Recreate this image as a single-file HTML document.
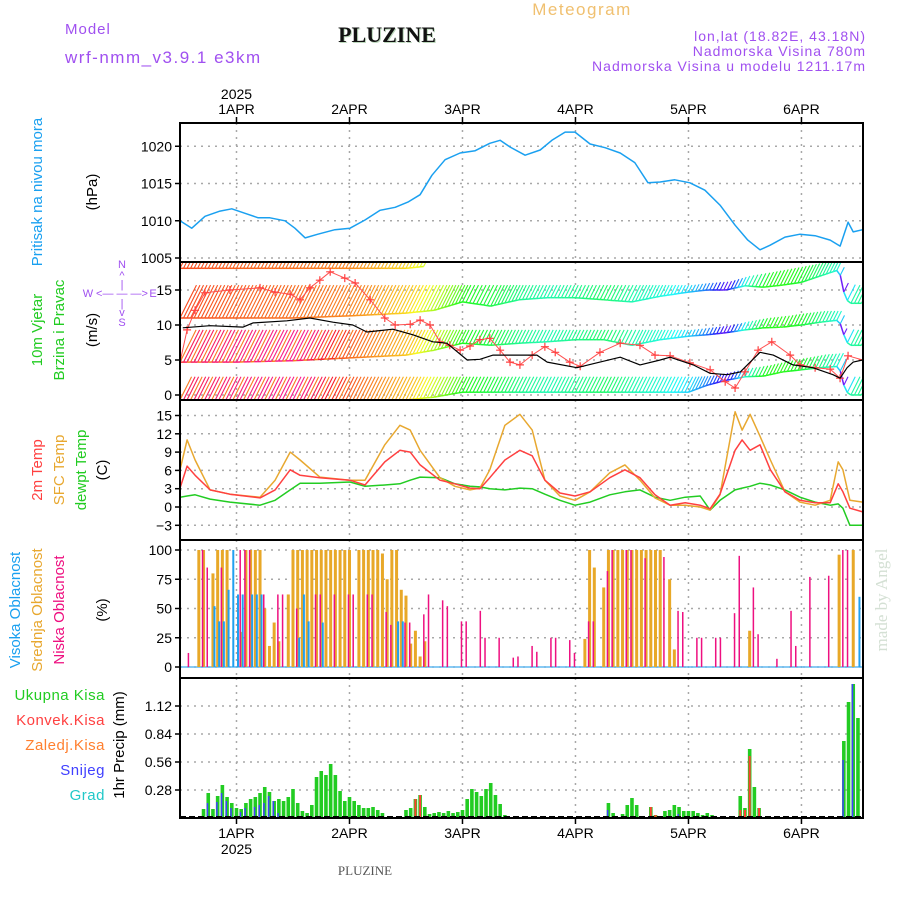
<!DOCTYPE html>
<html><head><meta charset="utf-8"><style>
html,body{margin:0;padding:0;background:#fff;}
svg{display:block;font-family:"Liberation Sans",sans-serif;}
</style></head><body>
<svg id="chart" width="900" height="900" viewBox="0 0 900 900" xmlns="http://www.w3.org/2000/svg">
<g>
<text x="65" y="34" font-size="15" fill="#a050f0" letter-spacing="1">Model</text>
<text x="65" y="63" font-size="17" fill="#a050f0" letter-spacing="1.5">wrf-nmm_v3.9.1 e3km</text>
<text x="388" y="43" font-size="22" font-weight="bold" font-family="Liberation Serif, serif" text-anchor="middle" fill="#bcd8bc">PLUZINE</text>
<text x="387" y="42" font-size="22" font-weight="bold" font-family="Liberation Serif, serif" text-anchor="middle" fill="#111">PLUZINE</text>
<text x="582" y="15" font-size="17" fill="#f0c070" text-anchor="middle" letter-spacing="1.5">Meteogram</text>
<text x="866" y="41" font-size="14" fill="#a050f0" text-anchor="end" letter-spacing="1">lon,lat (18.82E, 43.18N)</text>
<text x="866" y="56" font-size="14" fill="#a050f0" text-anchor="end" letter-spacing="1">Nadmorska Visina 780m</text>
<text x="866" y="71" font-size="14" fill="#a050f0" text-anchor="end" letter-spacing="1">Nadmorska Visina u modelu 1211.17m</text>
</g>
<g id="grid"></g>
<g id="marks"></g>
<g id="frames"></g>
<g id="labels">
<text transform="translate(42,192) rotate(-90)" font-size="15" fill="#1aa0f0" text-anchor="middle">Pritisak na nivou mora</text>
<text transform="translate(97,192) rotate(-90)" font-size="15" fill="#000" text-anchor="middle">(hPa)</text>
<text transform="translate(42,330) rotate(-90)" font-size="15" fill="#22cc22" text-anchor="middle">10m Vjetar</text>
<text transform="translate(64,330) rotate(-90)" font-size="15" fill="#22cc22" text-anchor="middle">Brzina i Pravac</text>
<text transform="translate(97,330) rotate(-90)" font-size="15" fill="#000" text-anchor="middle">(m/s)</text>
<g fill="#a050f0" font-size="11" text-anchor="middle">
<text x="122" y="268">N</text><text x="122" y="279">^</text><text x="122" y="288">|</text>
<text x="88" y="297">W</text><text x="122" y="297">&lt;— — —&gt;</text><text x="153" y="297">E</text>
<text x="122" y="307">|</text><text x="122" y="316">v</text><text x="122" y="326">S</text>
</g>
<text transform="translate(42,470) rotate(-90)" font-size="15" fill="#ff4040" text-anchor="middle">2m Temp</text>
<text transform="translate(64,470) rotate(-90)" font-size="15" fill="#e8a830" text-anchor="middle">SFC Temp</text>
<text transform="translate(86,470) rotate(-90)" font-size="15" fill="#22cc22" text-anchor="middle">dewpt Temp</text>
<text transform="translate(107,470) rotate(-90)" font-size="15" fill="#000" text-anchor="middle">(C)</text>
<text transform="translate(20,610) rotate(-90)" font-size="15" fill="#1aa0f0" text-anchor="middle">Visoka Oblacnost</text>
<text transform="translate(42,610) rotate(-90)" font-size="15" fill="#e8a830" text-anchor="middle">Srednja Oblacnost</text>
<text transform="translate(64,610) rotate(-90)" font-size="15" fill="#ee1080" text-anchor="middle">Niska Oblacnost</text>
<text transform="translate(107,610) rotate(-90)" font-size="15" fill="#000" text-anchor="middle">(%)</text>
<text x="105" y="700" font-size="15" fill="#22cc22" text-anchor="end" letter-spacing="0.5">Ukupna Kisa</text>
<text x="105" y="725" font-size="15" fill="#ff4040" text-anchor="end" letter-spacing="0.5">Konvek.Kisa</text>
<text x="105" y="750" font-size="15" fill="#ff8030" text-anchor="end" letter-spacing="0.5">Zaledj.Kisa</text>
<text x="105" y="775" font-size="15" fill="#4040ff" text-anchor="end" letter-spacing="0.5">Snijeg</text>
<text x="105" y="800" font-size="15" fill="#20c8c8" text-anchor="end" letter-spacing="0.5">Grad</text>
<text transform="translate(124,745) rotate(-90)" font-size="15" fill="#000" text-anchor="middle">1hr Precip (mm)</text>
<text transform="translate(887,600) rotate(-90)" font-size="17" fill="#d4e0d4" font-family="Liberation Serif, serif" text-anchor="middle">made by Angel</text>
<text x="365" y="875" font-size="13" fill="#555" font-family="Liberation Serif, serif" text-anchor="middle">PLUZINE</text>
</g>
</svg>
<script>
// ---------- data ----------
const dayLabels = ["1APR","2APR","3APR","4APR","5APR","6APR"];
const dayHours = [0,24,48,72,96,120];
const pressTicks = [1005,1010,1015,1020];
const windTicks = [0,5,10,15];
const tempTicks = [-3,0,3,6,9,12,15];
const cloudTicks = [0,25,50,75,100];
const precipTicks = [0.28,0.56,0.84,1.12];

const pressT = [-12,-9.5,-6.7,-3.5,-1,1.8,4.6,7.1,10.3,12.4,14.6,17.3,20.9,24.1,27.3,30.5,33.7,36.4,39,41.5,44.3,47.5,50.7,53.8,56,58.1,61.3,64.5,67,69.8,71.9,75.1,78.3,81.5,84.6,87.4,90,93.1,96.3,99.5,102.7,105.9,108.6,111.2,113.3,116.5,119.7,122.9,126.1,128.2,129.9,131,133];
const pressV = [1010.0,1009.0,1010.6,1011.3,1011.6,1011.0,1010.4,1010.4,1010.0,1009.0,1007.7,1008.2,1008.8,1009.0,1010.1,1011.4,1011.8,1012.5,1013.5,1016.1,1018.2,1019.1,1019.4,1020.4,1020.8,1019.9,1018.8,1019.5,1020.8,1021.9,1021.9,1020.3,1019.8,1019.1,1017.8,1015.1,1015.2,1015.5,1015.1,1014.1,1012.1,1009.4,1007.4,1006.1,1006.7,1007.8,1008.2,1008.0,1007.4,1006.6,1009.8,1008.5,1008.8];

const windT = [-11.4,-5.6,1.4,3.5,10.7,15.6,20.5,24.7,27.7,33.2,37.5,41.7,44.7,49,51.7,54.5,58.7,63.8,66,72.3,77.2,81.5,85.7,90,92.1,97,100.6,104.2,107,111.2,114,118.2,122.4,126.7,128.2,129.7,131,133];
const windV = [9.6,9.9,9.7,10.3,10.6,11.0,10.4,10.0,9.0,9.4,8.6,7.6,7.4,5.0,5.1,5.7,5.7,5.7,4.7,3.9,4.7,5.4,4.3,5.0,5.4,4.3,3.1,2.9,3.3,6.1,5.7,4.3,3.9,2.9,2.4,3.9,4.7,5.0];
const gustT = [-12,-10.5,-8.8,-6.7,-1.4,5,8.2,11.4,13.5,15.6,17.7,19.9,23,25.2,28.4,31.5,33.7,36.9,39,41.1,43.2,45.3,47.5,49.6,51.7,53.8,56,58.1,60.2,62.8,65.5,67.7,70.8,73,77.2,81.5,85.7,88.9,92.1,96.3,100.6,103.8,105.9,108,110.8,113.7,117.6,119.7,122.9,126.1,128.2,129.9,133];
const gustV = [4.7,9.3,12.1,14.6,15.0,15.3,14.7,14.4,13.6,15.3,16.4,17.6,16.7,16.0,13.6,11.0,10.0,10.1,10.7,10.0,7.6,7.1,6.4,7.0,7.9,8.1,6.4,4.7,4.3,5.7,6.9,6.1,4.7,4.1,6.1,7.4,7.1,5.7,5.6,4.6,3.6,1.9,1.0,3.3,6.4,7.6,5.7,4.3,3.9,3.7,2.4,5.6,5.0];

const barbT = [-12,0,12,24,36,42,48,54,60,66,72,78,84,90,96,100,104,108,112,116,120,124,128,129,130,133];
const barbBaseB = [11.0,11.0,11.0,11.3,11.7,12.1,13.3,12.7,13.6,13.9,13.9,13.6,13.3,14.1,14.7,15.0,15.0,15.6,15.4,15.7,16.1,17.0,17.9,14.7,13.1,13.1];
const barbTopB = [15.7,15.7,15.7,15.7,15.7,15.7,15.7,15.7,15.7,15.7,15.7,15.7,15.7,15.7,15.7,16.0,16.2,17.0,17.5,18.0,18.5,19.0,19.0,16.0,15.7,15.7];
const barbBaseC = [4.7,4.7,4.9,5.3,5.7,6.4,7.4,7.1,7.4,7.6,7.9,7.9,7.1,7.9,8.4,8.6,8.9,9.3,9.6,9.7,10.0,10.4,10.7,8.6,7.1,7.1];
const barbTopC = [9.3,9.3,9.3,9.3,9.3,9.3,9.3,9.3,9.3,9.3,9.3,9.3,9.3,9.3,9.3,9.6,9.9,10.5,11.0,11.3,11.7,12.0,12.0,9.5,9.3,9.3];
const barbBaseD = [-0.7,-0.7,-0.7,-0.7,-0.7,-0.3,0.4,0.4,0.4,0.4,0.4,0.4,0.4,0.4,0.4,1.4,2.1,2.6,2.7,3.3,3.6,3.9,4.1,1.4,0,0];
const barbTopD = [2.6,2.6,2.6,2.6,2.6,2.6,2.6,2.6,2.6,2.6,2.6,2.6,2.6,2.6,2.6,2.7,3.2,3.8,4.2,4.8,5.3,5.8,6.0,2.6,2.6,2.6];
const barbBaseA = [18.1,18.1,18.1,18.1,18.1,18.5,19,19,19,19,19,19,19,19,19,19,19,19,19,19,19,19,19,19,19,19];
const barbTopA = [19.5,19.5,19.5,19.5,19.5,19.5,19,19,19,19,19,19,19,19,19,19,19,19,19,19,19,19,19,19,19,19];
const dirHue = [12,18,22,28,50,80,120,130,150,160,150,140,160,170,190,215,262,170,120,115,125,150,170,262,160,150];
const dirHueLow = [345,335,330,380,405,440,480,490,510,520,510,500,520,530,550,575,622,530,480,475,485,510,530,622,520,510];

const tempT = [-12,-10.5,-8.8,-5.6,-1.4,5,8.2,11.4,13.5,17.7,24.1,27.3,31.5,34.7,36.9,39,43.2,46.4,49.6,51.7,53.8,57,60.2,62.8,65.5,68.7,71.9,75.1,79.3,82.5,85.7,88.9,92.1,95.3,98.5,100.6,102.7,105.9,107.4,109.1,111.2,113.4,116.5,119.7,122.9,126.1,127.8,128.8,130.3,133];
const t2m = [3.1,6.7,5.2,2.8,2.1,1.5,2.8,6.1,5.2,4.8,4.4,3.6,7.4,9.3,9.0,6.9,4.4,3.8,3.1,3.0,4.8,7.7,9.3,8.4,4.4,2.3,1.8,2.5,4.8,6.1,4.8,2.0,0.3,0.7,0.3,-0.3,2.1,9.3,11.0,9.3,10.2,6.1,2.5,1.1,0.7,0.7,3.8,2.5,-0.2,-0.8];
const tSfc = [6.1,11.0,7.7,2.8,2.1,1.6,4.4,9.0,7.7,4.9,4.4,4.4,10.2,13.4,12.6,9.3,4.8,3.4,2.8,3.1,6.1,13.4,15.2,12.6,4.4,1.8,1.1,2.5,5.6,6.9,4.4,1.5,0.3,0.3,0,-0.5,2.0,15.6,12.6,15.2,11.6,7.7,2.5,0.8,0.3,1.1,7.4,6.1,1.1,0.8];
const tDew = [1.6,1.8,2.0,1.3,0.8,0.3,1.1,2.8,3.9,3.9,4.1,3.4,3.6,3.8,4.4,4.9,4.8,3.8,3.4,3.3,3.0,2.8,3.1,3.0,2.1,1.1,0.3,0.8,2.0,2.5,2.8,1.6,1.1,1.6,1.8,-0.5,1.1,2.8,3.1,3.4,3.9,3.6,2.8,1.6,0.8,0.3,0.5,-0.2,-3.0,-3.0];

const midH = [-8,-7,-5,-4,-3,-2,1,2,3,4,5,6,7,8,9,11,12,13,14,15,16,17,18,19,20,21,22,23,24,26,27,28,29,30,31,32,33,34,35,36,37,38,39,40,74,75,76,78,79,80,81,82,83,84,85,86,87,88,89,90,92,93,109,128,131];
const midV = [100,100,80,100,100,100,30,100,100,100,100,50,18,38,22,62,100,100,100,100,100,100,100,100,100,100,100,100,100,100,100,100,100,100,97,75,100,100,66,61,20,31,9,22,24,100,85,68,100,100,100,100,100,100,100,100,100,100,100,100,75,15,31,96,100];
const lowH = [-10,-7,-6,-3,1,2,3,6,9,10,13,17,18,21,24,25,28,29,32,33,36,37,40,41,44,45,48,49,52,53,56,59,60,63,64,67,68,71,72,75,76,79,80,83,84,87,91,94,95,98,99,102,103,106,107,110,111,115,118,119,122,126,129,130];
const lowV = [12,100,85,85,100,100,100,62,62,62,50,62,62,62,62,62,62,62,47,36,38,38,45,62,57,52,39,39,48,25,25,8,9,18,13,25,25,23,12,39,39,82,100,100,100,93,94,48,47,25,25,25,25,46,95,68,28,7,48,18,77,78,100,100];
const highH = [-5,-4,-3,-2,-1,0,1,3,4,5,13,14,15,18,34,35,132];
const highV = [52,39,39,66,100,62,62,62,62,62,25,62,39,38,39,39,60];

const precipTotal = [0,0,0,0,0,.09,.25,.09,.22,.33,.21,.15,.10,.09,.15,.19,.21,.25,.31,.26,.17,.19,.17,.21,.29,.15,.07,.05,.13,.41,.47,.43,.54,.43,.27,.17,.21,.17,.13,.10,.10,.11,.08,.05,.01,0,0,.01,.08,.10,.19,.23,.11,.04,.05,.06,.05,.07,.05,.06,.08,.19,.29,.26,.22,.29,.35,.23,.14,.03,0,0,0,0,0,0,0,0,0,0,0,0,0,0,0,0,0,0,0,0,0,.15,.05,.01,.04,.13,.20,.13,0,.01,.11,.03,.01,.07,.08,.13,.11,.07,.07,.07,.05,.03,.05,.03,.01,0,0,0,0,.22,.10,.69,.31,.10,0,0,0,0,0,0,0,0,0,0,0,0,0,0,0,0,0,.77,1.16,1.34,1.0];
const convH = [35,38,39,88,89,107,108,109,111];
const convV = [.01,.19,.23,.11,.03,.08,.08,.62,.10];
const snowH = [-6,-4,-3,-2,-1,1,2,4,5,6,7,8,9,79,94,129,131];
const snowV = [.15,.16,.25,.17,.10,.06,.10,.11,.13,.15,.22,.17,.05,.08,.04,.58,1.34];

// ---------- scales ----------
const L = 180, R = 863;
const X = h => L + (h + 12) * 4.708;
const panels = {
  press: {top:123, bot:262, y: v => 258 - (v - 1005) * 7.45},
  wind:  {top:262, bot:400, y: v => 395 - v * 7},
  temp:  {top:400, bot:540, y: v => 507 - v * 6.1},
  cloud: {top:540, bot:678, y: v => 667 - v * 1.17},
  precip:{top:678, bot:818, y: v => 818 - v * 100}
};
const NS = "http://www.w3.org/2000/svg";
const gGrid = document.getElementById('grid');
const gMarks = document.getElementById('marks');
const gFrames = document.getElementById('frames');
const gLabels = document.getElementById('labels');
function el(tag, attrs, parent) {
  const e = document.createElementNS(NS, tag);
  for (const k in attrs) e.setAttribute(k, attrs[k]);
  parent.appendChild(e);
  return e;
}
function interp(ts, vs, t) {
  if (t <= ts[0]) return vs[0];
  for (let i = 1; i < ts.length; i++) if (t <= ts[i]) {
    const f = (t - ts[i-1]) / (ts[i] - ts[i-1]);
    return vs[i-1] + f * (vs[i] - vs[i-1]);
  }
  return vs[vs.length - 1];
}

const defs = el('defs', {}, document.getElementById('chart'));
for (const k in panels) {
  const cp = el('clipPath', {id: 'clip-' + k}, defs);
  el('rect', {x: L, y: panels[k].top, width: R - L, height: panels[k].bot - panels[k].top}, cp);
}

const tickSets = {press: pressTicks, wind: windTicks, temp: tempTicks, cloud: cloudTicks, precip: precipTicks};
for (const k in panels) {
  const p = panels[k];
  for (const h of dayHours) {
    const ln = el('line', {x1: X(h), x2: X(h), y1: p.top, y2: p.bot, stroke: '#a8a8a8', 'stroke-width': 1.5, 'stroke-dasharray': '2,5'}, gGrid);
    
    
  }
  for (const v of tickSets[k]) {
    const y = p.y(v);
    const ln = el('line', {x1: L, x2: R, y1: y, y2: y, stroke: '#a8a8a8', 'stroke-width': 1.5, 'stroke-dasharray': '2,5'}, gGrid);
    
    
    const tk = el('line', {x1: L - 5, x2: L, y1: y, y2: y, stroke: '#000', 'stroke-width': 1.5}, gFrames);
    
    
    const t = el('text', {x: L - 8, y: y + 5, 'font-size': 14, 'text-anchor': 'end', fill: '#000'}, gLabels);
    t.textContent = (k === 'temp' && v < 0) ? '−' + Math.abs(v) : String(v);
    
    
  }
  const fr = el('rect', {x: L, y: p.top, width: R - L, height: p.bot - p.top, fill: 'none', stroke: '#000', 'stroke-width': 2}, gFrames);
  
  
}
dayHours.forEach((h, i) => {
  const tTop = el('text', {x: X(h), y: 114, 'font-size': 14, 'text-anchor': 'middle', fill: '#000'}, gLabels);
  tTop.textContent = dayLabels[i];
  
  
  const tBot = el('text', {x: X(h), y: 838, 'font-size': 14, 'text-anchor': 'middle', fill: '#000'}, gLabels);
  tBot.textContent = dayLabels[i];
  
  
  const tk1 = el('line', {x1: X(h), x2: X(h), y1: 117, y2: 123, stroke: '#000', 'stroke-width': 1.5}, gFrames);
  
  
  const tk2 = el('line', {x1: X(h), x2: X(h), y1: 818, y2: 824, stroke: '#000', 'stroke-width': 1.5}, gFrames);
  
  
});
const y1 = el('text', {x: X(0), y: 99, 'font-size': 14, 'text-anchor': 'middle', fill: '#000'}, gLabels);
y1.textContent = '2025';


const y2 = el('text', {x: X(0), y: 854, 'font-size': 14, 'text-anchor': 'middle', fill: '#000'}, gLabels);
y2.textContent = '2025';



function line(ts, vs, panel, color, w, name) {
  const p = panels[panel];
  const d = ts.map((t, i) => (i ? 'L' : 'M') + X(t).toFixed(1) + ',' + p.y(vs[i]).toFixed(1)).join('');
  const path = el('path', {d: d, fill: 'none', stroke: color, 'stroke-width': w, 'clip-path': 'url(#clip-' + panel + ')', 'stroke-linejoin': 'round'}, gMarks);
  
  
  return path;
}

line(pressT, pressV, 'press', '#1aa0f0', 1.5, 'pressure-line');

// wind barbs
const gBarb = el('g', {'clip-path': 'url(#clip-wind)'}, gMarks);


const bands = [
  {base: barbBaseA, top: barbTopA, hue: dirHue, tmax: 40},
  {base: barbBaseB, top: barbTopB, hue: dirHue, tmax: 133},
  {base: barbBaseC, top: barbTopC, hue: dirHueLow, tmax: 133},
  {base: barbBaseD, top: barbTopD, hue: dirHueLow, tmax: 133}
];
const wp = panels.wind;
bands.forEach((b, bi) => {
  let prev = null, k = 0;
  for (let t = -12; t <= b.tmax; t += 0.75, k++) {
    const bs = interp(barbT, b.base, t), tp = interp(barbT, b.top, t);
    let hue = interp(barbT, b.hue, t);
    if (bi >= 2 && t < 24 && k % 3 === 0) hue = 25;
    hue = ((hue % 360) + 360) % 360;
    const col = 'hsl(' + hue.toFixed(0) + ',95%,55%)';
    const x0 = X(t), yb = wp.y(bs), yt = wp.y(Math.max(tp, bs + 0.8));
    const st = el('line', {x1: x0, y1: yb, x2: x0 + (yb - yt) * 0.5, y2: yt, stroke: col, 'stroke-width': 1.1}, gBarb);
    
    
    if (prev) {
      const bl = el('line', {x1: prev[0], y1: prev[1], x2: x0, y2: yb, stroke: col, 'stroke-width': 1.5}, gBarb);
      
      
    }
    prev = [x0, yb];
  }
});
line(gustT, gustV, 'wind', '#ff5050', 1, 'gust-line');
gustT.forEach((t, i) => {
  const x = X(t), y = wp.y(gustV[i]);
  const m = el('path', {d: 'M' + (x - 4) + ',' + y + 'h8M' + x + ',' + (y - 4) + 'v8', stroke: '#ff4040', 'stroke-width': 1.2, 'clip-path': 'url(#clip-wind)'}, gMarks);
  
  
});
line(windT, windV, 'wind', '#000', 1.2, 'wind-speed-line');

line(tempT, tDew, 'temp', '#22cc22', 1.5, 'dewpoint-line');
line(tempT, tSfc, 'temp', '#e8a830', 1.5, 'sfc-temp-line');
line(tempT, t2m, 'temp', '#ff4040', 1.5, '2m-temp-line');

const cp = panels.cloud;
const cb = el('line', {x1: L, x2: R, y1: cp.y(0), y2: cp.y(0), stroke: '#60b8f0', 'stroke-width': 1.5}, gMarks);


function bars(hs, vs, panel, color, w, off, name) {
  const p = panels[panel];
  hs.forEach((h, i) => {
    const y = p.y(vs[i]), y0 = p.y(0);
    const r = el('rect', {x: X(h) - w / 2 + off, y: Math.min(y, y0), width: w, height: Math.abs(y0 - y), fill: color, 'clip-path': 'url(#clip-' + panel + ')'}, gMarks);
    
    
  });
}
bars(midH, midV, 'cloud', '#e8a828', 3, 0, 'mid-cloud-bar');
bars(highH, highV, 'cloud', '#20a0f0', 2, 1.5, 'high-cloud-bar');
bars(lowH, lowV, 'cloud', '#ee1080', 1.5, -1, 'low-cloud-bar');

const precipH = precipTotal.map((v, i) => i - 12);
bars(precipH, precipTotal, 'precip', '#22cc22', 3.6, 0, 'total-precip-bar');
bars(convH, convV, 'precip', '#ff4030', 2, 0, 'convective-precip-bar');
bars(snowH, snowV, 'precip', '#4040ff', 1.5, -0.8, 'snow-precip-bar');
const pb = el('line', {x1: L, x2: R, y1: 817, y2: 817, stroke: '#000', 'stroke-width': 2, 'stroke-dasharray': '6,3'}, gMarks);


</script>
</body></html>
